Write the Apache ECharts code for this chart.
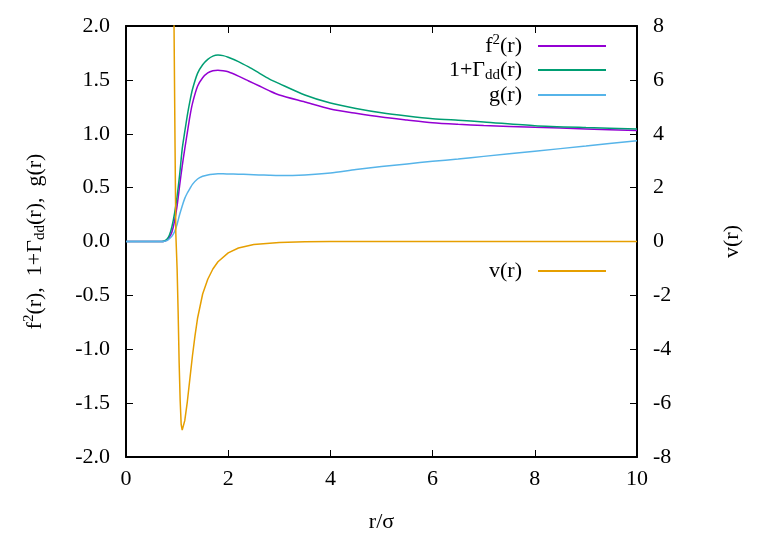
<!DOCTYPE html>
<html>
<head>
<meta charset="utf-8">
<script src="https://cdn.jsdelivr.net/npm/echarts@6/dist/echarts.min.js"></script>
<style>
  html, body { margin: 0; padding: 0; background: #fff; }
  #chart { width: 771px; height: 540px; }
</style>
</head>
<body>
<div id="chart"></div>
<script>
// r grid shared by f^2, 1+Gamma_dd and g
const rGrid = [0, 0.6, 0.7, 0.75, 0.8, 0.85, 0.9, 0.95, 1.0, 1.05, 1.1, 1.15, 1.2, 1.25, 1.3,
  1.4, 1.5, 1.6, 1.7, 1.8, 1.9, 2.0, 2.2, 2.4, 2.6, 2.8, 3.0, 3.5, 4.0, 4.5, 5.0, 5.5,
  6.0, 6.5, 7.0, 8.0, 9.0, 10.0];

const f2Vals = [0, 0, 0, 0.003, 0.012, 0.04, 0.09, 0.19, 0.33, 0.52, 0.7, 0.86, 1.01, 1.16, 1.28,
  1.44, 1.52, 1.565, 1.585, 1.59, 1.585, 1.575, 1.535, 1.49, 1.445, 1.40, 1.36, 1.295, 1.23, 1.19, 1.155, 1.128,
  1.103, 1.088, 1.076, 1.06, 1.045, 1.03];

const gammaVals = [0, 0, 0, 0.005, 0.02, 0.06, 0.14, 0.26, 0.42, 0.62, 0.86, 1.02, 1.17, 1.30, 1.41,
  1.56, 1.64, 1.69, 1.72, 1.73, 1.725, 1.71, 1.67, 1.62, 1.565, 1.51, 1.465, 1.36, 1.285, 1.235, 1.195, 1.165,
  1.14, 1.125, 1.11, 1.075, 1.058, 1.045];

const gVals = [0, 0, 0, 0.002, 0.008, 0.025, 0.05, 0.09, 0.16, 0.25, 0.33, 0.40, 0.45, 0.49, 0.53,
  0.58, 0.605, 0.618, 0.625, 0.628, 0.628, 0.627, 0.625, 0.622, 0.618, 0.615, 0.613, 0.618, 0.635, 0.668, 0.695, 0.72,
  0.745, 0.765, 0.79, 0.838, 0.886, 0.935];

// potential v(r), right axis
const vR = [0.9, 0.92, 0.94, 0.96, 0.975, 1.0, 1.02, 1.04, 1.06, 1.08, 1.1, 1.12, 1.15, 1.2, 1.25,
  1.3, 1.35, 1.4, 1.5, 1.6, 1.7, 1.8, 2.0, 2.2, 2.5, 3.0, 3.5, 4.0, 5.0, 6.0, 8.0, 10.0];
const vVals = [40, 16, 8.0, 3.5, 0.3, -1.0, -2.6, -4.5, -5.9, -6.8, -7.0, -6.95, -6.65, -5.95, -5.1,
  -4.25, -3.5, -2.85, -1.95, -1.4, -1.02, -0.75, -0.42, -0.24, -0.11, -0.035, -0.012, -0.004, 0, 0, 0, 0];

const leftTicks = [-2, 2, 0.5];   // min, max, step
const rightTicks = [-8, 8, 2];
const xTicks = [0, 10, 2];

const font = 'Liberation Serif';
const fs = 22;
const rich = {
  n: { fontSize: fs, fontFamily: font, color: '#000', lineHeight: 26 },
  sup: { fontSize: 15, fontFamily: font, color: '#000', verticalAlign: 'top', lineHeight: 12 },
  sub: { fontSize: 15, fontFamily: font, color: '#000', verticalAlign: 'bottom', lineHeight: 12 },
  g: { fontSize: fs, fontFamily: font, width: 11 }
};

const labels = {
  'f2': '{n|f}{sup|2}{n|(r)}{g|}',
  'gamma': '{n|1+Γ}{sub|dd}{n|(r)}{g|}',
  'g': '{n|g(r)}{g|}',
  'v': '{n|v(r)}{g|}'
};

const zip = (xs, ys) => xs.map((x, i) => [x, ys[i]]);

const chart = echarts.init(document.getElementById('chart'));

const axisLine = { show: true, onZero: false, lineStyle: { color: '#000', width: 2 } };
const tickStyle = { show: true, inside: true, length: 7, lineStyle: { color: '#000', width: 1 } };
const labelStyle = { fontFamily: font, fontSize: fs, color: '#000' };

const mkLegend = (name, top) => ({
  data: [name],
  orient: 'vertical',
  right: 165,
  top: top,
  padding: 0,
  align: 'right',
  icon: 'rect',
  itemWidth: 68,
  itemHeight: 2,
  selectedMode: false,
  formatter: n => labels[n],
  textStyle: { rich: rich }
});

const option = {
  animation: false,
  backgroundColor: '#fff',
  grid: { left: 126, right: 134, top: 26, bottom: 83 },
  legend: [
    mkLegend('f2', 33),
    mkLegend('gamma', 59),
    mkLegend('g', 84),
    mkLegend('v', 260)
  ],
  xAxis: [{
    type: 'value', min: xTicks[0], max: xTicks[1], interval: xTicks[2],
    position: 'bottom',
    name: 'r/σ', nameLocation: 'middle', nameGap: 54,
    nameTextStyle: labelStyle,
    axisLine: axisLine, axisTick: tickStyle,
    axisLabel: Object.assign({ margin: 11 }, labelStyle),
    splitLine: { show: false }
  }, {
    type: 'value', min: xTicks[0], max: xTicks[1], interval: xTicks[2],
    position: 'top',
    axisLine: axisLine, axisTick: tickStyle,
    axisLabel: { show: false },
    splitLine: { show: false }
  }],
  yAxis: [{
    type: 'value', min: leftTicks[0], max: leftTicks[1], interval: leftTicks[2],
    position: 'left',
    name: '{n|f}{sup|2}{n|(r),  1+Γ}{sub|dd}{n|(r),  g(r)}',
    nameLocation: 'middle', nameGap: 78, nameRotate: 90,
    nameTextStyle: { rich: rich },
    axisLine: axisLine, axisTick: tickStyle,
    axisLabel: Object.assign({ margin: 16, formatter: v => v.toFixed(1) }, labelStyle),
    splitLine: { show: false }
  }, {
    type: 'value', min: rightTicks[0], max: rightTicks[1], interval: rightTicks[2],
    position: 'right',
    name: 'v(r)', nameLocation: 'middle', nameGap: 84, nameRotate: 90,
    nameTextStyle: labelStyle,
    axisLine: axisLine, axisTick: tickStyle,
    axisLabel: Object.assign({ margin: 16 }, labelStyle),
    splitLine: { show: false }
  }],
  series: [
    { name: 'f2', type: 'line', data: zip(rGrid, f2Vals), showSymbol: false, smooth: 0.25,
      color: '#9400d3', lineStyle: { width: 1.5 }, clip: true },
    { name: 'gamma', type: 'line', data: zip(rGrid, gammaVals), showSymbol: false, smooth: 0.25,
      color: '#009e73', lineStyle: { width: 1.5 }, clip: true },
    { name: 'g', type: 'line', data: zip(rGrid, gVals), showSymbol: false, smooth: 0.25,
      color: '#56b4e9', lineStyle: { width: 1.5 }, clip: true },
    { name: 'v', type: 'line', yAxisIndex: 1, data: zip(vR, vVals), showSymbol: false,
      color: '#e69f00', lineStyle: { width: 1.5 }, clip: true }
  ]
};

chart.setOption(option);
</script>
</body>
</html>
